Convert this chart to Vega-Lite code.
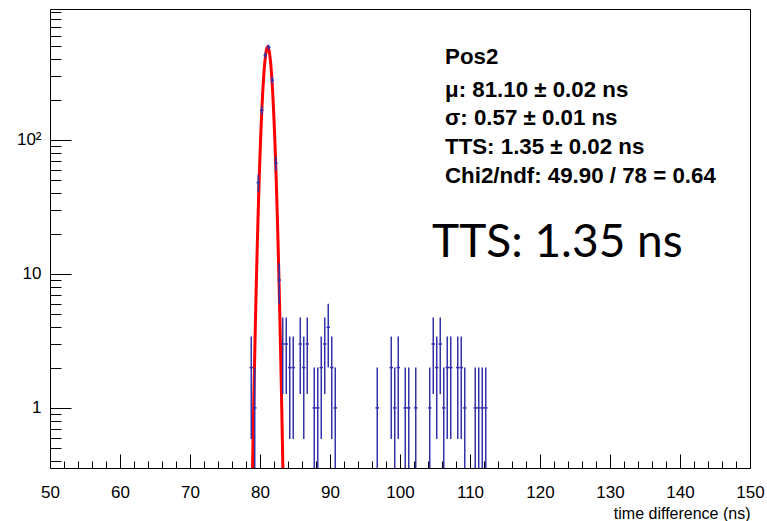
{
  "$schema": "https://vega.github.io/schema/vega-lite/v6.json",
  "width": 700,
  "height": 459,
  "autosize": {"type": "none"},
  "padding": {"left": 50, "top": 9, "right": 17, "bottom": 53},
  "background": "#ffffff",
  "config": {"view": {"stroke": "#000000", "strokeWidth": 1}, "font": "Liberation Sans"},
  "datasets": {
    "hist": [
      {"t": 78.75, "t0": 78.5, "t1": 79.0, "n": 2, "lo": 0.586, "hi": 3.414},
      {"t": 79.25, "t0": 79.0, "t1": 79.5, "n": 1, "lo": 0.01, "hi": 2},
      {"t": 79.75, "t0": 79.5, "t1": 80.0, "n": 48, "lo": 41.07, "hi": 54.93},
      {"t": 80.25, "t0": 80.0, "t1": 80.5, "n": 167, "lo": 154.08, "hi": 179.92},
      {"t": 80.75, "t0": 80.5, "t1": 81.0, "n": 430, "lo": 409.26, "hi": 450.74},
      {"t": 81.25, "t0": 81.0, "t1": 81.5, "n": 492, "lo": 469.82, "hi": 514.18},
      {"t": 81.75, "t0": 81.5, "t1": 82.0, "n": 280, "lo": 263.27, "hi": 296.73},
      {"t": 82.25, "t0": 82.0, "t1": 82.5, "n": 67, "lo": 58.81, "hi": 75.19},
      {"t": 82.75, "t0": 82.5, "t1": 83.0, "n": 9, "lo": 6, "hi": 12},
      {"t": 83.25, "t0": 83.0, "t1": 83.5, "n": 3, "lo": 1.268, "hi": 4.732},
      {"t": 83.75, "t0": 83.5, "t1": 84.0, "n": 3, "lo": 1.268, "hi": 4.732},
      {"t": 84.25, "t0": 84.0, "t1": 84.5, "n": 2, "lo": 0.586, "hi": 3.414},
      {"t": 84.75, "t0": 84.5, "t1": 85.0, "n": 2, "lo": 0.586, "hi": 3.414},
      {"t": 85.75, "t0": 85.5, "t1": 86.0, "n": 3, "lo": 1.268, "hi": 4.732},
      {"t": 86.25, "t0": 86.0, "t1": 86.5, "n": 2, "lo": 0.586, "hi": 3.414},
      {"t": 86.75, "t0": 86.5, "t1": 87.0, "n": 3, "lo": 1.268, "hi": 4.732},
      {"t": 87.75, "t0": 87.5, "t1": 88.0, "n": 1, "lo": 0.01, "hi": 2},
      {"t": 88.25, "t0": 88.0, "t1": 88.5, "n": 1, "lo": 0.01, "hi": 2},
      {"t": 88.75, "t0": 88.5, "t1": 89.0, "n": 2, "lo": 0.586, "hi": 3.414},
      {"t": 89.25, "t0": 89.0, "t1": 89.5, "n": 3, "lo": 1.268, "hi": 4.732},
      {"t": 89.75, "t0": 89.5, "t1": 90.0, "n": 4, "lo": 2, "hi": 6},
      {"t": 90.25, "t0": 90.0, "t1": 90.5, "n": 2, "lo": 0.586, "hi": 3.414},
      {"t": 90.75, "t0": 90.5, "t1": 91.0, "n": 1, "lo": 0.01, "hi": 2},
      {"t": 96.75, "t0": 96.5, "t1": 97.0, "n": 1, "lo": 0.01, "hi": 2},
      {"t": 98.75, "t0": 98.5, "t1": 99.0, "n": 2, "lo": 0.586, "hi": 3.414},
      {"t": 99.25, "t0": 99.0, "t1": 99.5, "n": 1, "lo": 0.01, "hi": 2},
      {"t": 99.75, "t0": 99.5, "t1": 100.0, "n": 2, "lo": 0.586, "hi": 3.414},
      {"t": 100.75, "t0": 100.5, "t1": 101.0, "n": 1, "lo": 0.01, "hi": 2},
      {"t": 101.25, "t0": 101.0, "t1": 101.5, "n": 1, "lo": 0.01, "hi": 2},
      {"t": 102.25, "t0": 102.0, "t1": 102.5, "n": 1, "lo": 0.01, "hi": 2},
      {"t": 104.25, "t0": 104.0, "t1": 104.5, "n": 1, "lo": 0.01, "hi": 2},
      {"t": 104.75, "t0": 104.5, "t1": 105.0, "n": 3, "lo": 1.268, "hi": 4.732},
      {"t": 105.25, "t0": 105.0, "t1": 105.5, "n": 2, "lo": 0.586, "hi": 3.414},
      {"t": 105.75, "t0": 105.5, "t1": 106.0, "n": 3, "lo": 1.268, "hi": 4.732},
      {"t": 106.25, "t0": 106.0, "t1": 106.5, "n": 1, "lo": 0.01, "hi": 2},
      {"t": 106.75, "t0": 106.5, "t1": 107.0, "n": 2, "lo": 0.586, "hi": 3.414},
      {"t": 107.25, "t0": 107.0, "t1": 107.5, "n": 2, "lo": 0.586, "hi": 3.414},
      {"t": 108.25, "t0": 108.0, "t1": 108.5, "n": 2, "lo": 0.586, "hi": 3.414},
      {"t": 108.75, "t0": 108.5, "t1": 109.0, "n": 2, "lo": 0.586, "hi": 3.414},
      {"t": 109.25, "t0": 109.0, "t1": 109.5, "n": 1, "lo": 0.01, "hi": 2},
      {"t": 110.75, "t0": 110.5, "t1": 111.0, "n": 1, "lo": 0.01, "hi": 2},
      {"t": 111.25, "t0": 111.0, "t1": 111.5, "n": 1, "lo": 0.01, "hi": 2},
      {"t": 111.75, "t0": 111.5, "t1": 112.0, "n": 1, "lo": 0.01, "hi": 2},
      {"t": 112.25, "t0": 112.0, "t1": 112.5, "n": 1, "lo": 0.01, "hi": 2}
    ],
    "fit": [
      {"t": 78.8, "v": 0.144}, {"t": 78.9, "v": 0.288}, {"t": 79.0, "v": 0.558}, {"t": 79.1, "v": 1.05},
      {"t": 79.2, "v": 1.91}, {"t": 79.3, "v": 3.37}, {"t": 79.4, "v": 5.78}, {"t": 79.5, "v": 9.61},
      {"t": 79.6, "v": 15.5}, {"t": 79.7, "v": 24.2}, {"t": 79.8, "v": 36.6}, {"t": 79.9, "v": 53.8},
      {"t": 80.0, "v": 76.7}, {"t": 80.1, "v": 106.0}, {"t": 80.2, "v": 142.0}, {"t": 80.3, "v": 184.5},
      {"t": 80.4, "v": 232.4}, {"t": 80.5, "v": 283.9}, {"t": 80.6, "v": 336.3}, {"t": 80.7, "v": 386.2},
      {"t": 80.8, "v": 430.1}, {"t": 80.9, "v": 464.5}, {"t": 81.0, "v": 486.5}, {"t": 81.1, "v": 494.0},
      {"t": 81.2, "v": 486.5}, {"t": 81.3, "v": 464.5}, {"t": 81.4, "v": 430.1}, {"t": 81.5, "v": 386.2},
      {"t": 81.6, "v": 336.3}, {"t": 81.7, "v": 283.9}, {"t": 81.8, "v": 232.4}, {"t": 81.9, "v": 184.5},
      {"t": 82.0, "v": 142.0}, {"t": 82.1, "v": 106.0}, {"t": 82.2, "v": 76.7}, {"t": 82.3, "v": 53.8},
      {"t": 82.4, "v": 36.6}, {"t": 82.5, "v": 24.2}, {"t": 82.6, "v": 15.5}, {"t": 82.7, "v": 9.61},
      {"t": 82.8, "v": 5.78}, {"t": 82.9, "v": 3.37}, {"t": 83.0, "v": 1.91}, {"t": 83.1, "v": 1.05},
      {"t": 83.2, "v": 0.558}, {"t": 83.3, "v": 0.288}, {"t": 83.4, "v": 0.144}
    ],
    "stats": [
      {"label": "Pos2", "yv": 416},
      {"label": "μ: 81.10 ± 0.02 ns", "yv": 236},
      {"label": "σ: 0.57 ± 0.01 ns", "yv": 146},
      {"label": "TTS: 1.35 ± 0.02 ns", "yv": 88.7},
      {"label": "Chi2/ndf: 49.90 / 78 = 0.64", "yv": 53.9}
    ],
    "note": [
      {"label": "TTS: 1.35 ns", "yv": 17.0}
    ]
  },
  "resolve": {"axis": {"x": "independent", "y": "independent"}},
  "layer": [
    {
      "data": {"name": "fit"},
      "mark": {"type": "line", "color": "#ff0000", "strokeWidth": 3, "clip": true, "interpolate": "linear"},
      "encoding": {
        "x": {"field": "t", "type": "quantitative",
              "scale": {"domain": [50, 150], "nice": false, "zero": false},
              "axis": {"orient": "bottom", "values": [52,54,56,58,62,64,66,68,72,74,76,78,82,84,86,88,92,94,96,98,102,104,106,108,112,114,116,118,122,124,126,128,132,134,136,138,142,144,146,148],
                       "tickSize": -7, "tickColor": "#000", "tickWidth": 1, "labels": false, "domain": false, "grid": false, "title": null}},
        "y": {"field": "v", "type": "quantitative",
              "scale": {"type": "log", "domain": [0.356, 950], "nice": false},
              "axis": {"orient": "left", "values": [0.4,0.5,0.6,0.7,0.8,0.9,2,3,4,5,6,7,8,9,20,30,40,50,60,70,80,90,200,300,400,500,600,700,800,900],
                       "tickSize": -11, "tickColor": "#000", "tickWidth": 1, "labels": false, "domain": false, "grid": false, "title": null}}
      }
    },
    {
      "data": {"name": "hist"},
      "mark": {"type": "rule", "color": "#3333aa", "strokeWidth": 1.5, "clip": true},
      "encoding": {
        "x": {"field": "t", "type": "quantitative",
              "axis": {"orient": "bottom", "values": [50,60,70,80,90,100,110,120,130,140,150], "ticks": false, "domain": false, "grid": false,
                       "labelFont": "Liberation Sans", "labelFontSize": 17, "labelColor": "#000", "labelPadding": 16, "labelFlush": false, "format": "d",
                       "title": "time difference (ns)", "titleFont": "Liberation Sans", "titleFontSize": 16, "titleFontWeight": "normal", "titleColor": "#000",
                       "titleAnchor": "end", "titlePadding": 5}},
        "y": {"field": "lo", "type": "quantitative",
              "axis": {"orient": "left", "values": [1, 10, 100], "ticks": false, "domain": false, "grid": false,
                       "labelFont": "Liberation Sans", "labelFontSize": 17, "labelColor": "#000", "labelPadding": 9,
                       "labelExpr": "datum.value == 100 ? '10²' : datum.value == 10 ? '10' : '1'", "title": null}},
        "y2": {"field": "hi"}
      }
    },
    {
      "data": {"name": "hist"},
      "mark": {"type": "rule", "color": "#3333aa", "strokeWidth": 1.5, "clip": true},
      "encoding": {
        "x": {"field": "t0", "type": "quantitative",
              "axis": {"orient": "bottom", "values": [50,60,70,80,90,100,110,120,130,140,150], "tickSize": -14, "tickColor": "#000", "tickWidth": 1,
                       "labels": false, "domain": false, "grid": false, "title": null}},
        "x2": {"field": "t1"},
        "y": {"field": "n", "type": "quantitative",
              "axis": {"orient": "left", "values": [1, 10, 100], "tickSize": -21, "tickColor": "#000", "tickWidth": 1,
                       "labels": false, "domain": false, "grid": false, "title": null}}
      }
    },
    {
      "data": {"name": "stats"},
      "mark": {"type": "text", "font": "Liberation Sans", "fontWeight": "bold", "fontSize": 22.3, "align": "left", "baseline": "middle", "color": "#000"},
      "encoding": {
        "x": {"datum": 106.43, "type": "quantitative", "axis": null},
        "y": {"field": "yv", "type": "quantitative", "axis": null},
        "text": {"field": "label"}
      }
    },
    {
      "data": {"name": "note"},
      "mark": {"type": "text", "font": "Lato", "fontWeight": "normal", "fontSize": 46, "align": "left", "baseline": "middle", "color": "#000"},
      "encoding": {
        "x": {"datum": 104.57, "type": "quantitative", "axis": null},
        "y": {"field": "yv", "type": "quantitative", "axis": null},
        "text": {"field": "label"}
      }
    }
  ]
}
